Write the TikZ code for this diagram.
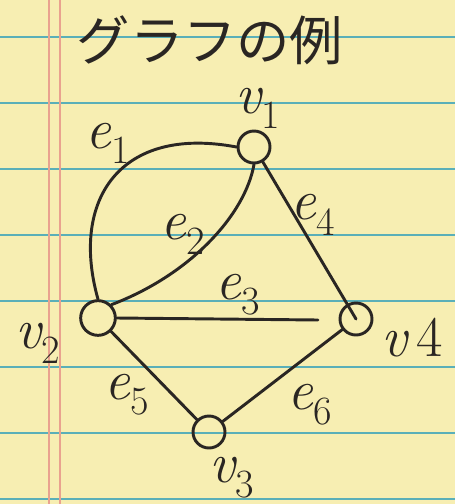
\documentclass[tikz,border=0pt]{standalone}
\usepackage{fontspec}
\newfontfamily\cjk{Noto Sans CJK JP}
\definecolor{paper}{HTML}{F7EEB2}
\definecolor{rule}{HTML}{5AAFB8}
\definecolor{margin}{HTML}{E9A28F}
\definecolor{ink}{HTML}{2A2623}
\tikzset{
  vert/.style={circle,draw=ink,line width=2.2pt,minimum size=24pt,inner sep=0pt},
  edge/.style={draw=ink,line width=2.2pt,line cap=round},
  lab/.style={text=ink,font=\fontsize{43}{43}\selectfont\itshape,inner sep=0pt},
}
\begin{document}
\begin{tikzpicture}[x=0.75pt,y=-0.75pt]
\fill[paper] (0,0) rectangle (455,504);
\useasboundingbox (0,0) rectangle (455,504);
\foreach \yy in {37,103,169,235,301,367,433,499}
  \draw[rule,line width=1.6pt] (0,\yy) -- (455,\yy);
\draw[margin,line width=1pt] (49,0) -- (49,504);
\draw[margin,line width=1pt] (60,0) -- (60,504);

\node[text=ink,font=\cjk\fontsize{40}{40}\selectfont,inner sep=0pt] (title) at (210,40) {グラフの例};

\node[vert] (v1) at (254,147) {};
\node[vert,minimum size=26pt] (v2) at (98,318) {};
\node[vert] (v4) at (356,319) {};
\node[vert] (v3) at (209,432) {};
\coordinate (e3end) at (318,320);

\draw[edge] (v2.north) .. controls (70,200) and (120,125) .. (v1.west);
\draw[edge] (v2.north east) .. controls (190,275) and (245,215) .. (v1.south);
\draw[edge] (v2.east) -- (e3end);
\draw[edge] (v1) -- (v4.center);
\draw[edge] (v3) -- (v2);
\draw[edge] (v3) -- (v4);

\node[lab] (lv1) at (258,108) {v\textsubscript{\upshape 1}};
\node[lab] (lv2) at (38,343) {v\textsubscript{\upshape 2}};
\node[lab] (lv4) at (412,338) {v\,\upshape 4};
\node[lab] (lv3) at (232,478) {v\textsubscript{\upshape 3}};
\node[lab] (le1) at (108,143) {e\textsubscript{\upshape 1}};
\node[lab] (le2) at (183,234) {e\textsubscript{\upshape 2}};
\node[lab] (le3) at (238,295) {e\textsubscript{\upshape 3}};
\node[lab] (le4) at (313,215) {e\textsubscript{\upshape 4}};
\node[lab] (le5) at (127,395) {e\textsubscript{\upshape 5}};
\node[lab] (le6) at (310,405) {e\textsubscript{\upshape 6}};
\end{tikzpicture}
\end{document}
